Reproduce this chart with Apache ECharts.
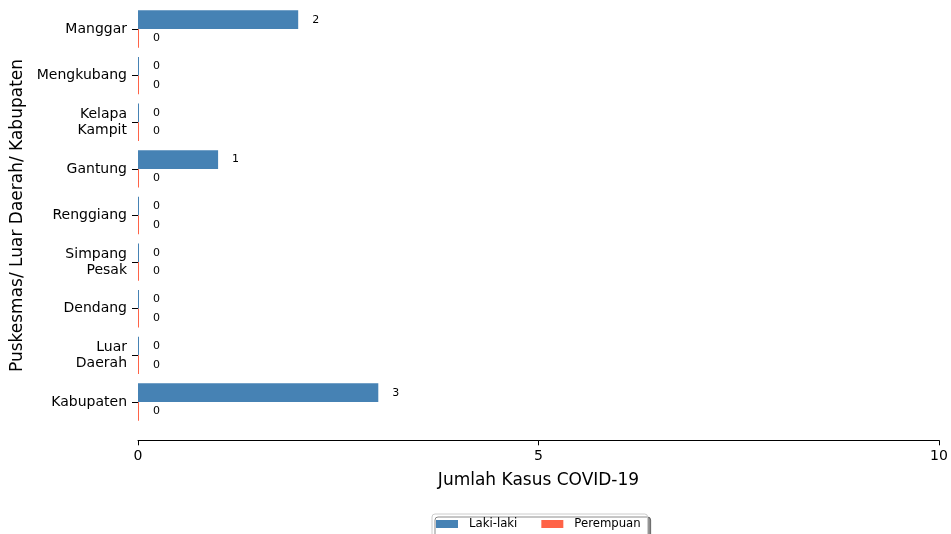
<!DOCTYPE html>
<html><head><meta charset="utf-8">
<script src="https://cdn.jsdelivr.net/npm/echarts@6/dist/echarts.min.js"></script>
<style>html,body{margin:0;padding:0;background:#fff}#c{width:951px;height:534px}</style>
</head><body><div id="c"></div>
<script>
const categories = ['Manggar','Mengkubang','Kelapa\nKampit','Gantung','Renggiang','Simpang\nPesak','Dendang','Luar\nDaerah','Kabupaten'];
const lakiLaki = [2,0,0,1,0,0,0,0,3];
const perempuan = [0,0,0,0,0,0,0,0,0];
const xTicks = {min:0, max:10, interval:5};
const FONT = 'DejaVu Sans';
const chart = echarts.init(document.getElementById('c'), null, {renderer:'canvas'});
const labelCfg = {show:true, position:'right', distance:14, fontFamily:FONT, fontSize:11, color:'#000'};
chart.setOption({
  animation:false,
  textStyle:{fontFamily:FONT},
  grid:{left:138, right:12, top:5.7, bottom:108.7, containLabel:false},
  legend:{
    data:['Laki-laki','Perempuan'], top:514, left:432,
    icon:'rect', itemWidth:22, itemHeight:8, itemGap:24,
    textStyle:{fontFamily:FONT, fontSize:11.7, color:'#000', padding:[0,0,0,6]},
    borderColor:'#ccc', borderWidth:1, borderRadius:3, padding:[4,7,10,4],
    backgroundColor:'#fff', shadowColor:'rgba(0,0,0,0.45)', shadowOffsetX:3, shadowOffsetY:3, shadowBlur:0
  },
  xAxis:{
    type:'value', min:xTicks.min, max:xTicks.max, interval:xTicks.interval, offset:15,
    name:'Jumlah Kasus COVID-19', nameLocation:'middle', nameGap:32,
    nameTextStyle:{fontFamily:FONT, fontSize:17, color:'#000'},
    axisLine:{show:true, lineStyle:{color:'#000', width:1}},
    axisTick:{show:true, length:5, lineStyle:{color:'#000'}},
    axisLabel:{fontFamily:FONT, fontSize:14, color:'#000', margin:9},
    splitLine:{show:false}
  },
  yAxis:{
    type:'category', data:categories, inverse:true,
    name:'Puskesmas/ Luar Daerah/ Kabupaten', nameLocation:'middle', nameGap:112, nameRotate:90,
    nameTextStyle:{fontFamily:FONT, fontSize:17, color:'#000'},
    axisLine:{show:false},
    axisTick:{show:true, alignWithLabel:true, length:6, lineStyle:{color:'#000'}, inside:false},
    axisLabel:{fontFamily:FONT, fontSize:14, color:'#000', margin:11, lineHeight:16}
  },
  series:[
    {name:'Laki-laki', type:'bar', data:lakiLaki, barGap:'0%', barCategoryGap:'20%', barMinHeight:1,
     itemStyle:{color:'#4682B4'}, label:labelCfg},
    {name:'Perempuan', type:'bar', data:perempuan, barGap:'0%', barCategoryGap:'20%', barMinHeight:1,
     itemStyle:{color:'#FF6347'}, label:labelCfg}
  ]
});
</script></body></html>
